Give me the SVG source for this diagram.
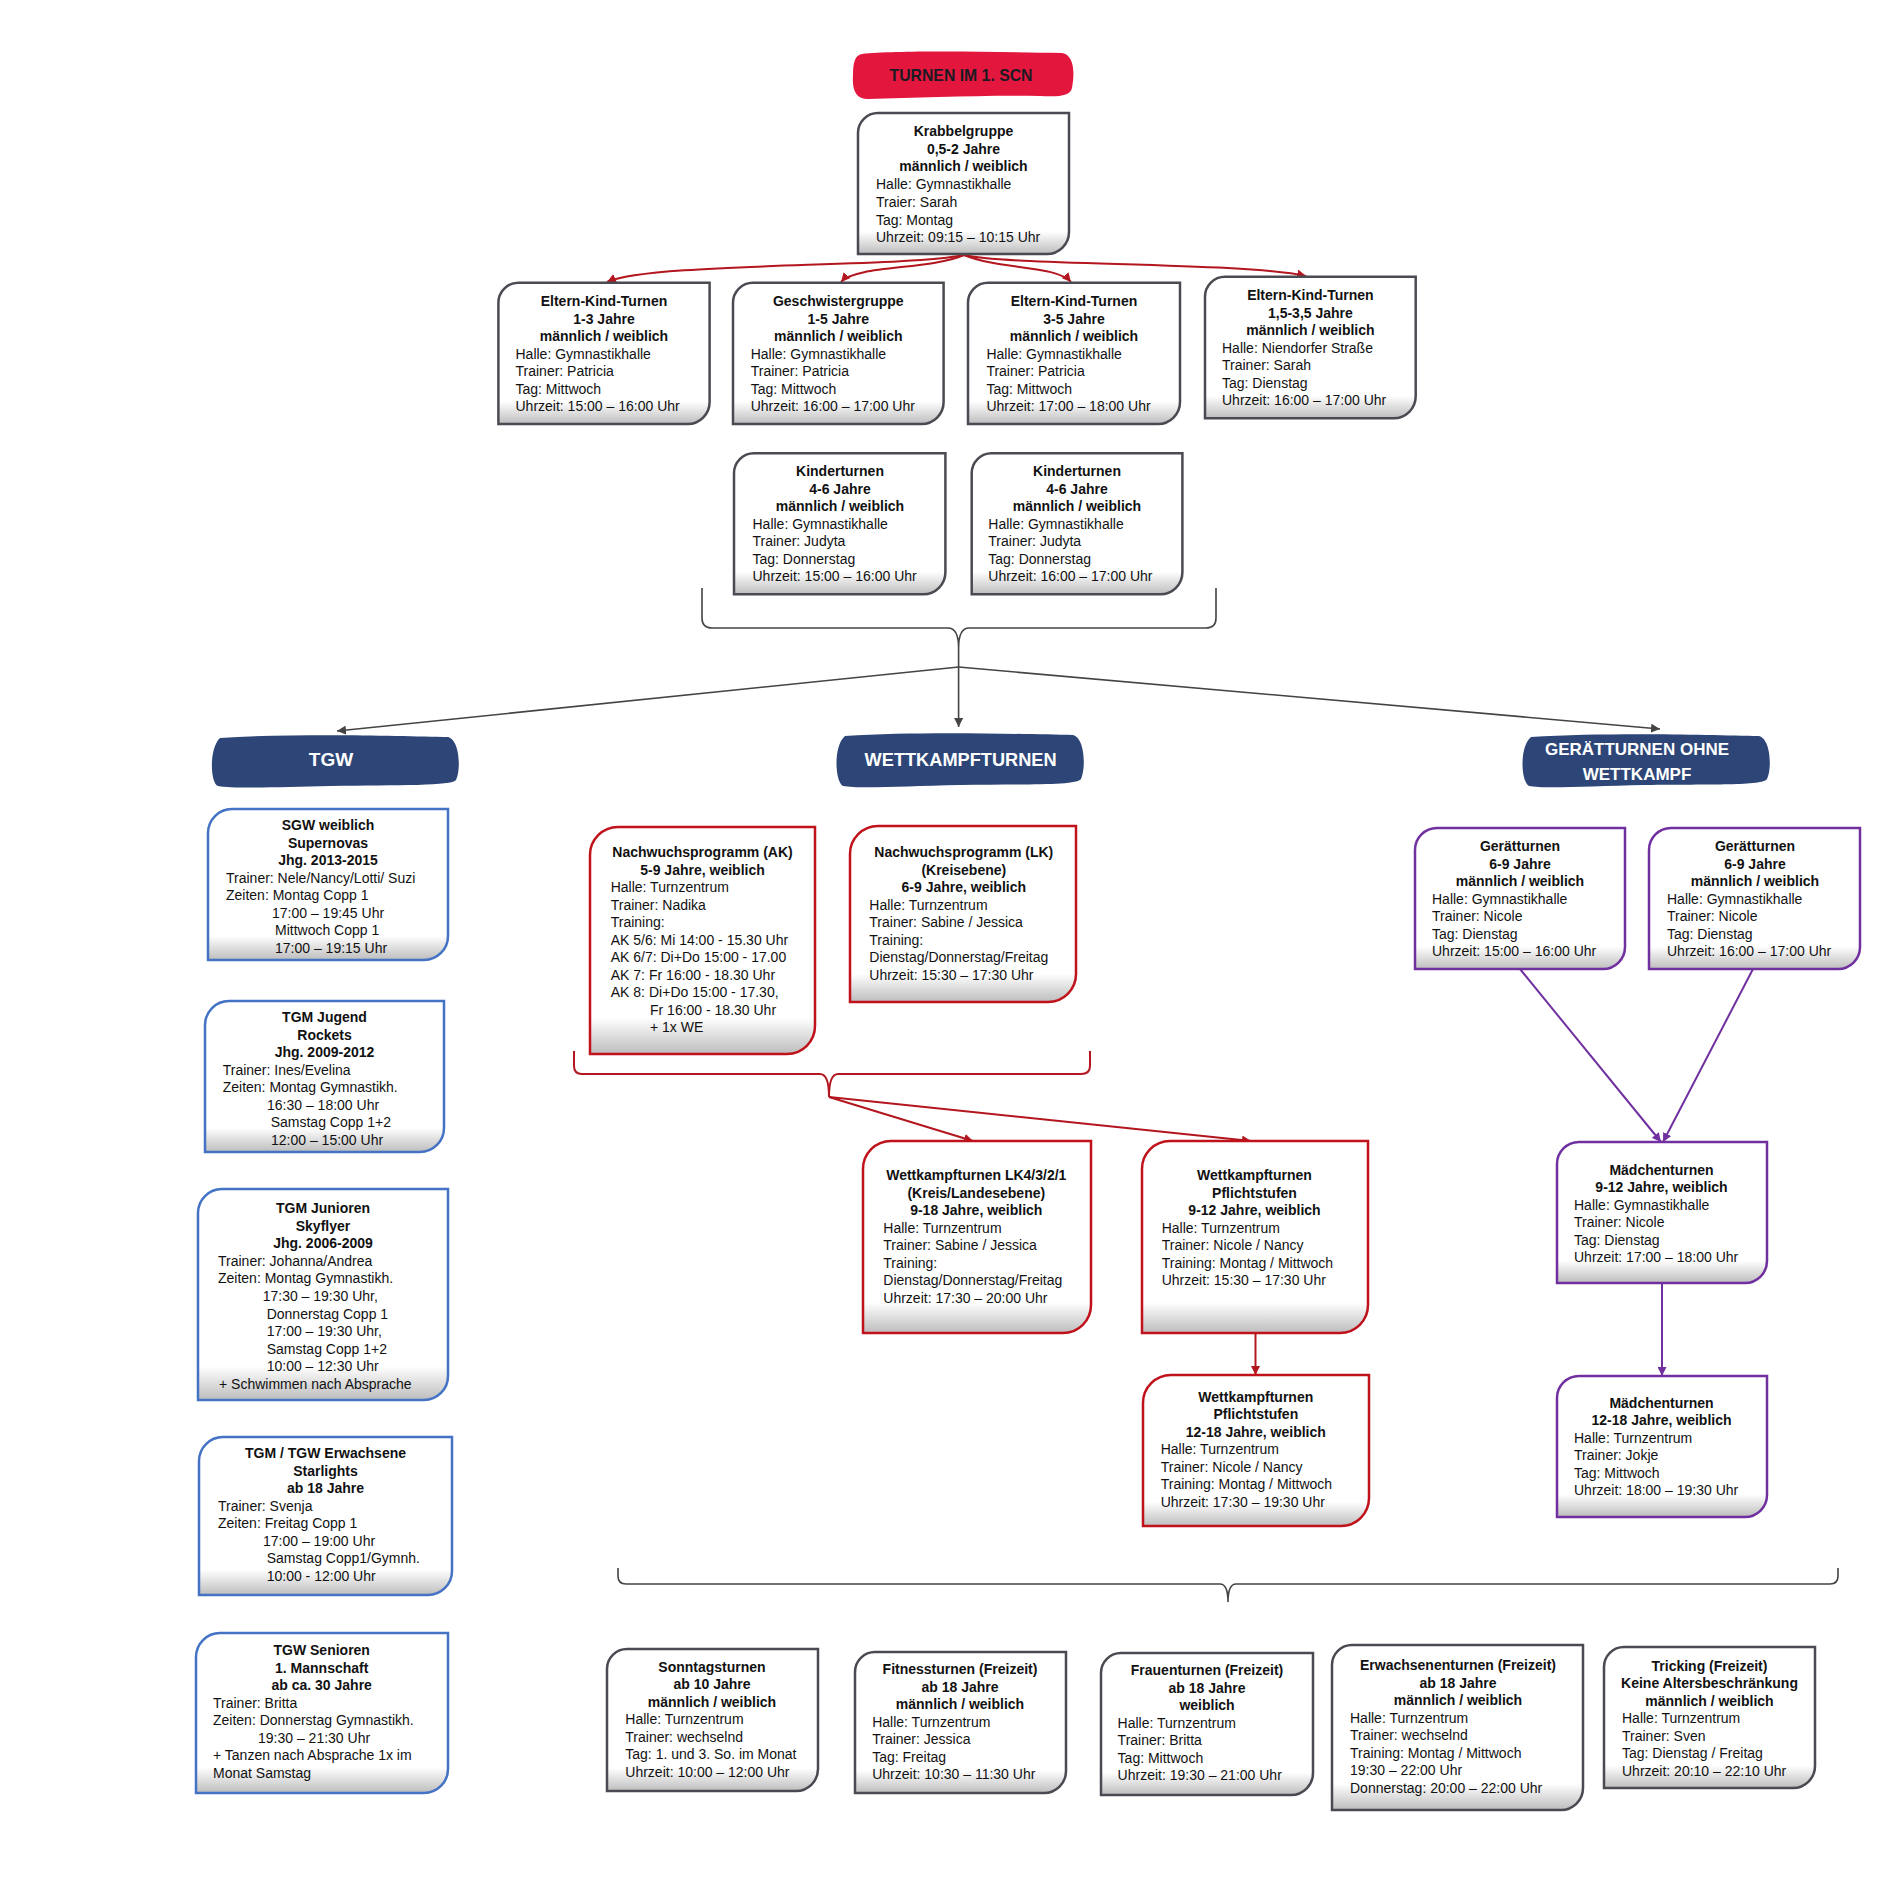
<svg xmlns="http://www.w3.org/2000/svg" width="1890" height="1890" viewBox="0 0 1890 1890">
<style>
text{font-family:"Liberation Sans",Arial,sans-serif;font-size:14px;fill:#111}
.b{font-weight:bold;text-anchor:middle}
.gy{fill:url(#shade);stroke:#4a4a52;stroke-width:2.5}
.rd{fill:url(#shade);stroke:#c0121b;stroke-width:2.5}
.bl{fill:url(#shade);stroke:#4472c4;stroke-width:2.5}
.pu{fill:url(#shade);stroke:#7030a0;stroke-width:2.5}
.pill{fill:#2d4677}
.pt{font-weight:bold;font-size:17px;fill:#fff;text-anchor:middle}
.cg{fill:none;stroke:#444;stroke-width:1.6}
.cr{fill:none;stroke:#b3161e;stroke-width:2}
.cp{fill:none;stroke:#7030a0;stroke-width:2}
</style>
<defs>
<linearGradient id="shade" x1="0" y1="0" x2="0" y2="1">
<stop offset="0" stop-color="#fff"/><stop offset="0.84" stop-color="#fff"/><stop offset="1" stop-color="#bdbdbd"/>
</linearGradient>
<marker id="ag" viewBox="0 0 10 10" refX="10" refY="5" markerWidth="9" markerHeight="9" markerUnits="userSpaceOnUse" orient="auto"><path d="M0,0 L10,5 L0,10 Z" fill="#444"/></marker>
<marker id="ar" viewBox="0 0 10 10" refX="10" refY="5" markerWidth="9" markerHeight="9" markerUnits="userSpaceOnUse" orient="auto"><path d="M0,0 L10,5 L0,10 Z" fill="#b3161e"/></marker>
<marker id="ap" viewBox="0 0 10 10" refX="10" refY="5" markerWidth="9" markerHeight="9" markerUnits="userSpaceOnUse" orient="auto"><path d="M0,0 L10,5 L0,10 Z" fill="#7030a0"/></marker>
</defs>
<rect width="1890" height="1890" fill="#fff"/>

<g id="connectors">
<path class="cr" marker-end="url(#ar)" d="M964,255 C900,268 650,262 607,282"/>
<path class="cr" marker-end="url(#ar)" d="M964,255 C930,270 856,265 841,282"/>
<path class="cr" marker-end="url(#ar)" d="M964,255 C1000,270 1056,265 1071,282"/>
<path class="cr" marker-end="url(#ar)" d="M964,255 C1010,266 1245,262 1306,276"/>
<path class="cg" d="M702,588 L702,618 Q702,628 712,628 L948,628 Q958.6,628 958.6,648 Q958.6,628 969,628 L1206,628 Q1216,628 1216,618 L1216,588"/>
<path class="cg" marker-end="url(#ag)" d="M958.6,667 L337,731"/>
<path class="cg" marker-end="url(#ag)" d="M958.6,648 L958.6,727"/>
<path class="cg" marker-end="url(#ag)" d="M958.6,667 L1660,729"/>
<path class="cr" d="M574,1051 L574,1066 Q574,1074 582,1074 L820,1074 Q829,1074 829,1097 Q829,1074 838,1074 L1081,1074 Q1090,1074 1090,1066 L1090,1051"/>
<path class="cr" marker-end="url(#ar)" d="M829,1097 L973,1141"/>
<path class="cr" marker-end="url(#ar)" d="M829,1097 L1251,1141"/>
<path class="cr" marker-end="url(#ar)" d="M1255.5,1333 L1255.5,1375"/>
<path class="cp" marker-end="url(#ap)" d="M1520,969 L1661,1142"/>
<path class="cp" marker-end="url(#ap)" d="M1753,969 L1663,1142"/>
<path class="cp" marker-end="url(#ap)" d="M1662,1283 L1662,1376"/>
<path class="cg" d="M618,1568 L618,1576 Q618,1584 626,1584 L1220,1584 Q1228,1584 1228,1602 Q1228,1584 1236,1584 L1830,1584 Q1838,1584 1838,1576 L1838,1568"/>
</g>

<g id="title">
<path fill="#e3173e" d="M862,54 C900,50 1000,52 1062,53 C1074,55 1075,72 1072,88 C1070,96 1060,97 1040,96 C980,95 920,98 868,99 C856,99 852,90 853,76 C853,62 855,55 862,54 Z"/>
<text x="961" y="81" style="font-weight:bold;font-size:17px;fill:#1a1a22;text-anchor:middle" textLength="143" lengthAdjust="spacingAndGlyphs">TURNEN IM 1. SCN</text>
</g>

<g id="krabbel">
<path class="gy" d="M858,133 A20,20 0 0 1 878,113 L1069,113 L1069,232 A22,22 0 0 1 1047,254 L858,254 Z"/>
<text class="b" x="963.5" y="136">Krabbelgruppe</text>
<text class="b" x="963.5" y="153.7">0,5-2 Jahre</text>
<text class="b" x="963.5" y="171.4">männlich / weiblich</text>
<text x="876" y="189">Halle: Gymnastikhalle</text>
<text x="876" y="207">Traier: Sarah</text>
<text x="876" y="224.6">Tag: Montag</text>
<text x="876" y="242">Uhrzeit: 09:15 – 10:15 Uhr</text>
</g>

<g id="ekt13">
<path class="gy" d="M498.4,302.7 A20,20 0 0 1 518.4,282.7 L709.6,282.7 L709.6,402 A22,22 0 0 1 687.6,424 L498.4,424 Z"/>
<text class="b" x="604" y="306">Eltern-Kind-Turnen</text>
<text class="b" x="604" y="323.5">1-3 Jahre</text>
<text class="b" x="604" y="341">männlich / weiblich</text>
<text x="515.5" y="358.5">Halle: Gymnastikhalle</text>
<text x="515.5" y="376">Trainer: Patricia</text>
<text x="515.5" y="393.5">Tag: Mittwoch</text>
<text x="515.5" y="411">Uhrzeit: 15:00 – 16:00 Uhr</text>
</g>

<g id="geschwister">
<path class="gy" d="M733,302.7 A20,20 0 0 1 753,282.7 L943.6,282.7 L943.6,402 A22,22 0 0 1 921.6,424 L733,424 Z"/>
<text class="b" x="838.3" y="306">Geschwistergruppe</text>
<text class="b" x="838.3" y="323.5">1-5 Jahre</text>
<text class="b" x="838.3" y="341">männlich / weiblich</text>
<text x="750.7" y="358.5">Halle: Gymnastikhalle</text>
<text x="750.7" y="376">Trainer: Patricia</text>
<text x="750.7" y="393.5">Tag: Mittwoch</text>
<text x="750.7" y="411">Uhrzeit: 16:00 – 17:00 Uhr</text>
</g>

<g id="ekt35">
<path class="gy" d="M968,302.7 A20,20 0 0 1 988,282.7 L1180,282.7 L1180,402 A22,22 0 0 1 1158,424 L968,424 Z"/>
<text class="b" x="1074" y="306">Eltern-Kind-Turnen</text>
<text class="b" x="1074" y="323.5">3-5 Jahre</text>
<text class="b" x="1074" y="341">männlich / weiblich</text>
<text x="986.4" y="358.5">Halle: Gymnastikhalle</text>
<text x="986.4" y="376">Trainer: Patricia</text>
<text x="986.4" y="393.5">Tag: Mittwoch</text>
<text x="986.4" y="411">Uhrzeit: 17:00 – 18:00 Uhr</text>
</g>

<g id="ekt1535">
<path class="gy" d="M1205,296.7 A20,20 0 0 1 1225,276.7 L1415.7,276.7 L1415.7,396.3 A22,22 0 0 1 1393.7,418.3 L1205,418.3 Z"/>
<text class="b" x="1310.4" y="300">Eltern-Kind-Turnen</text>
<text class="b" x="1310.4" y="317.5">1,5-3,5 Jahre</text>
<text class="b" x="1310.4" y="335">männlich / weiblich</text>
<text x="1222" y="352.5">Halle: Niendorfer Straße</text>
<text x="1222" y="370">Trainer: Sarah</text>
<text x="1222" y="387.5">Tag: Dienstag</text>
<text x="1222" y="405">Uhrzeit: 16:00 – 17:00 Uhr</text>
</g>

<g id="kinder1">
<path class="gy" d="M734,473.3 A20,20 0 0 1 754,453.3 L945.4,453.3 L945.4,572.3 A22,22 0 0 1 923.4,594.3 L734,594.3 Z"/>
<text class="b" x="840" y="476">Kinderturnen</text>
<text class="b" x="840" y="493.5">4-6 Jahre</text>
<text class="b" x="840" y="511">männlich / weiblich</text>
<text x="752.5" y="528.5">Halle: Gymnastikhalle</text>
<text x="752.5" y="546">Trainer: Judyta</text>
<text x="752.5" y="563.5">Tag: Donnerstag</text>
<text x="752.5" y="581">Uhrzeit: 15:00 – 16:00 Uhr</text>
</g>

<g id="kinder2">
<path class="gy" d="M971.7,473.3 A20,20 0 0 1 991.7,453.3 L1182.4,453.3 L1182.4,572.3 A22,22 0 0 1 1160.4,594.3 L971.7,594.3 Z"/>
<text class="b" x="1077" y="476">Kinderturnen</text>
<text class="b" x="1077" y="493.5">4-6 Jahre</text>
<text class="b" x="1077" y="511">männlich / weiblich</text>
<text x="988.3" y="528.5">Halle: Gymnastikhalle</text>
<text x="988.3" y="546">Trainer: Judyta</text>
<text x="988.3" y="563.5">Tag: Donnerstag</text>
<text x="988.3" y="581">Uhrzeit: 16:00 – 17:00 Uhr</text>
</g>

<g id="pill-tgw">
<path class="pill" d="M220,738 C300,733 400,736 448,737 C460,740 461,770 456,780 C452,786 400,785 330,786 C280,787 235,789 218,786 C210,783 209,748 220,738 Z"/>
<text class="pt" x="331" y="766" style="font-size:19px">TGW</text>
</g>
<g id="pill-wett">
<path class="pill" d="M845,736 C920,731 1020,734 1073,735 C1085,738 1086,768 1081,779 C1077,786 1020,784 960,785 C905,786 860,789 843,786 C835,782 833,746 845,736 Z"/>
<text class="pt" x="960.6" y="766" style="font-size:18px" textLength="192" lengthAdjust="spacingAndGlyphs">WETTKAMPFTURNEN</text>
</g>
<g id="pill-geraet">
<path class="pill" d="M1531,737 C1610,732 1710,735 1759,736 C1771,739 1772,769 1767,779 C1763,786 1710,784 1645,785 C1590,786 1545,789 1529,786 C1521,782 1519,747 1531,737 Z"/>
<text class="pt" x="1637" y="755">GERÄTTURNEN OHNE</text>
<text class="pt" x="1637" y="780">WETTKAMPF</text>
</g>

<g id="tgw-sgw">
<path class="bl" d="M208,833 A24,24 0 0 1 232,809 L448,809 L448,936 A24,24 0 0 1 424,960 L208,960 Z"/>
<text class="b" x="328" y="830">SGW weiblich</text>
<text class="b" x="328" y="847.5">Supernovas</text>
<text class="b" x="328" y="865">Jhg. 2013-2015</text>
<text x="226" y="882.5">Trainer: Nele/Nancy/Lotti/ Suzi</text>
<text x="226" y="900">Zeiten: Montag Copp 1</text>
<text x="272" y="917.5">17:00 – 19:45 Uhr</text>
<text x="275" y="935">Mittwoch Copp 1</text>
<text x="275" y="952.5">17:00 – 19:15 Uhr</text>
</g>

<g id="tgm-jugend">
<path class="bl" d="M205,1025 A24,24 0 0 1 229,1001 L444,1001 L444,1128 A24,24 0 0 1 420,1152 L205,1152 Z"/>
<text class="b" x="324.5" y="1022">TGM Jugend</text>
<text class="b" x="324.5" y="1039.5">Rockets</text>
<text class="b" x="324.5" y="1057">Jhg. 2009-2012</text>
<text x="222.7" y="1074.5">Trainer: Ines/Evelina</text>
<text x="222.7" y="1092">Zeiten: Montag Gymnastikh.</text>
<text x="267" y="1109.5">16:30 – 18:00 Uhr</text>
<text x="270.7" y="1127">Samstag Copp 1+2</text>
<text x="271" y="1144.5">12:00 – 15:00 Uhr</text>
</g>

<g id="tgm-junioren">
<path class="bl" d="M198,1213 A24,24 0 0 1 222,1189 L448,1189 L448,1376 A24,24 0 0 1 424,1400 L198,1400 Z"/>
<text class="b" x="323" y="1213">TGM Junioren</text>
<text class="b" x="323" y="1230.6">Skyflyer</text>
<text class="b" x="323" y="1248.2">Jhg. 2006-2009</text>
<text x="218" y="1265.8">Trainer: Johanna/Andrea</text>
<text x="218" y="1283.4">Zeiten: Montag Gymnastikh.</text>
<text x="262.7" y="1301">17:30 – 19:30 Uhr,</text>
<text x="266.7" y="1318.6">Donnerstag Copp 1</text>
<text x="266.7" y="1336.2">17:00 – 19:30 Uhr,</text>
<text x="266.7" y="1353.8">Samstag Copp 1+2</text>
<text x="266.7" y="1371.4">10:00 – 12:30 Uhr</text>
<text x="219" y="1389">+ Schwimmen nach Absprache</text>
</g>

<g id="tgw-erwachsene">
<path class="bl" d="M199,1461 A24,24 0 0 1 223,1437 L452,1437 L452,1571 A24,24 0 0 1 428,1595 L199,1595 Z"/>
<text class="b" x="325.5" y="1458">TGM / TGW Erwachsene</text>
<text class="b" x="325.5" y="1475.5">Starlights</text>
<text class="b" x="325.5" y="1493">ab 18 Jahre</text>
<text x="218" y="1510.5">Trainer: Svenja</text>
<text x="218" y="1528">Zeiten: Freitag Copp 1</text>
<text x="263" y="1545.5">17:00 – 19:00 Uhr</text>
<text x="266.7" y="1563">Samstag Copp1/Gymnh.</text>
<text x="266.7" y="1580.5">10:00 - 12:00 Uhr</text>
</g>

<g id="tgw-senioren">
<path class="bl" d="M196,1657 A24,24 0 0 1 220,1633 L448,1633 L448,1769 A24,24 0 0 1 424,1793 L196,1793 Z"/>
<text class="b" x="321.7" y="1655">TGW Senioren</text>
<text class="b" x="321.7" y="1672.5">1. Mannschaft</text>
<text class="b" x="321.7" y="1690">ab ca. 30 Jahre</text>
<text x="213" y="1707.5">Trainer: Britta</text>
<text x="213" y="1725">Zeiten: Donnerstag Gymnastikh.</text>
<text x="258" y="1742.5">19:30 – 21:30 Uhr</text>
<text x="213" y="1760">+ Tanzen nach Absprache 1x im</text>
<text x="213" y="1777.5">Monat Samstag</text>
</g>

<g id="nachwuchs-ak">
<path class="rd" d="M590,855 A28,28 0 0 1 618,827 L815,827 L815,1026 A28,28 0 0 1 787,1054 L590,1054 Z"/>
<text class="b" x="702.5" y="857.3">Nachwuchsprogramm (AK)</text>
<text class="b" x="702.5" y="874.8">5-9 Jahre, weiblich</text>
<text x="610.7" y="892.3">Halle: Turnzentrum</text>
<text x="610.7" y="909.8">Trainer: Nadika</text>
<text x="610.7" y="927.3">Training:</text>
<text x="610.7" y="944.8">AK 5/6: Mi 14:00 - 15.30 Uhr</text>
<text x="610.7" y="962.3">AK 6/7: Di+Do 15:00 - 17.00</text>
<text x="610.7" y="979.8">AK 7:<tspan x="649">Fr 16:00 - 18.30 Uhr</tspan></text>
<text x="610.7" y="997.3">AK 8:<tspan x="649">Di+Do 15:00 - 17.30,</tspan></text>
<text x="650" y="1014.8">Fr 16:00 - 18.30 Uhr</text>
<text x="650" y="1032.3">+ 1x WE</text>
</g>

<g id="nachwuchs-lk">
<path class="rd" d="M850,854 A28,28 0 0 1 878,826 L1076,826 L1076,974 A28,28 0 0 1 1048,1002 L850,1002 Z"/>
<text class="b" x="963.8" y="857.3">Nachwuchsprogramm (LK)</text>
<text class="b" x="963.8" y="874.8">(Kreisebene)</text>
<text class="b" x="963.8" y="892.3">6-9 Jahre, weiblich</text>
<text x="869.3" y="909.8">Halle: Turnzentrum</text>
<text x="869.3" y="927.3">Trainer: Sabine / Jessica</text>
<text x="869.3" y="944.8">Training:</text>
<text x="869.3" y="962.3">Dienstag/Donnerstag/Freitag</text>
<text x="869.3" y="979.8">Uhrzeit: 15:30 – 17:30 Uhr</text>
</g>

<g id="wk-lk">
<path class="rd" d="M863,1169 A28,28 0 0 1 891,1141 L1091,1141 L1091,1305 A28,28 0 0 1 1063,1333 L863,1333 Z"/>
<text class="b" x="976.3" y="1180">Wettkampfturnen LK4/3/2/1</text>
<text class="b" x="976.3" y="1197.5">(Kreis/Landesebene)</text>
<text class="b" x="976.3" y="1215">9-18 Jahre, weiblich</text>
<text x="883.3" y="1232.5">Halle: Turnzentrum</text>
<text x="883.3" y="1250">Trainer: Sabine / Jessica</text>
<text x="883.3" y="1267.5">Training:</text>
<text x="883.3" y="1285">Dienstag/Donnerstag/Freitag</text>
<text x="883.3" y="1302.5">Uhrzeit: 17:30 – 20:00 Uhr</text>
</g>

<g id="wk-pflicht912">
<path class="rd" d="M1142,1169 A28,28 0 0 1 1170,1141 L1368,1141 L1368,1305 A28,28 0 0 1 1340,1333 L1142,1333 Z"/>
<text class="b" x="1254.5" y="1180">Wettkampfturnen</text>
<text class="b" x="1254.5" y="1197.5">Pflichtstufen</text>
<text class="b" x="1254.5" y="1215">9-12 Jahre, weiblich</text>
<text x="1161.7" y="1232.5">Halle: Turnzentrum</text>
<text x="1161.7" y="1250">Trainer: Nicole / Nancy</text>
<text x="1161.7" y="1267.5">Training: Montag / Mittwoch</text>
<text x="1161.7" y="1285">Uhrzeit: 15:30 – 17:30 Uhr</text>
</g>

<g id="wk-pflicht1218">
<path class="rd" d="M1143,1403 A28,28 0 0 1 1171,1375 L1369,1375 L1369,1498 A28,28 0 0 1 1341,1526 L1143,1526 Z"/>
<text class="b" x="1255.8" y="1401.7">Wettkampfturnen</text>
<text class="b" x="1255.8" y="1419.2">Pflichtstufen</text>
<text class="b" x="1255.8" y="1436.7">12-18 Jahre, weiblich</text>
<text x="1160.7" y="1454.2">Halle: Turnzentrum</text>
<text x="1160.7" y="1471.7">Trainer: Nicole / Nancy</text>
<text x="1160.7" y="1489.2">Training: Montag / Mittwoch</text>
<text x="1160.7" y="1506.7">Uhrzeit: 17:30 – 19:30 Uhr</text>
</g>

<g id="geraet1">
<path class="pu" d="M1415,850 A22,22 0 0 1 1437,828 L1625,828 L1625,947 A22,22 0 0 1 1603,969 L1415,969 Z"/>
<text class="b" x="1520" y="851">Gerätturnen</text>
<text class="b" x="1520" y="868.5">6-9 Jahre</text>
<text class="b" x="1520" y="886">männlich / weiblich</text>
<text x="1432" y="903.5">Halle: Gymnastikhalle</text>
<text x="1432" y="921">Trainer: Nicole</text>
<text x="1432" y="938.5">Tag: Dienstag</text>
<text x="1432" y="956">Uhrzeit: 15:00 – 16:00 Uhr</text>
</g>

<g id="geraet2">
<path class="pu" d="M1649,850 A22,22 0 0 1 1671,828 L1860,828 L1860,947 A22,22 0 0 1 1838,969 L1649,969 Z"/>
<text class="b" x="1755" y="851">Gerätturnen</text>
<text class="b" x="1755" y="868.5">6-9 Jahre</text>
<text class="b" x="1755" y="886">männlich / weiblich</text>
<text x="1667" y="903.5">Halle: Gymnastikhalle</text>
<text x="1667" y="921">Trainer: Nicole</text>
<text x="1667" y="938.5">Tag: Dienstag</text>
<text x="1667" y="956">Uhrzeit: 16:00 – 17:00 Uhr</text>
</g>

<g id="maedchen912">
<path class="pu" d="M1557,1164 A22,22 0 0 1 1579,1142 L1767,1142 L1767,1261 A22,22 0 0 1 1745,1283 L1557,1283 Z"/>
<text class="b" x="1661.5" y="1174.6">Mädchenturnen</text>
<text class="b" x="1661.5" y="1192">9-12 Jahre, weiblich</text>
<text x="1574" y="1209.6">Halle: Gymnastikhalle</text>
<text x="1574" y="1227">Trainer: Nicole</text>
<text x="1574" y="1244.6">Tag: Dienstag</text>
<text x="1574" y="1262">Uhrzeit: 17:00 – 18:00 Uhr</text>
</g>

<g id="maedchen1218">
<path class="pu" d="M1557,1398 A22,22 0 0 1 1579,1376 L1767,1376 L1767,1495 A22,22 0 0 1 1745,1517 L1557,1517 Z"/>
<text class="b" x="1661.5" y="1407.5">Mädchenturnen</text>
<text class="b" x="1661.5" y="1425">12-18 Jahre, weiblich</text>
<text x="1574" y="1442.5">Halle: Turnzentrum</text>
<text x="1574" y="1460">Trainer: Jokje</text>
<text x="1574" y="1477.5">Tag: Mittwoch</text>
<text x="1574" y="1495">Uhrzeit: 18:00 – 19:30 Uhr</text>
</g>

<g id="sonntag">
<path class="gy" d="M607,1669 A20,20 0 0 1 627,1649 L818,1649 L818,1769 A22,22 0 0 1 796,1791 L607,1791 Z"/>
<text class="b" x="712" y="1671.7">Sonntagsturnen</text>
<text class="b" x="712" y="1689.2">ab 10 Jahre</text>
<text class="b" x="712" y="1706.7">männlich / weiblich</text>
<text x="625.3" y="1724.2">Halle: Turnzentrum</text>
<text x="625.3" y="1741.7">Trainer: wechselnd</text>
<text x="625.3" y="1759.2">Tag: 1. und 3. So. im Monat</text>
<text x="625.3" y="1776.7">Uhrzeit: 10:00 – 12:00 Uhr</text>
</g>

<g id="fitness">
<path class="gy" d="M855,1672 A20,20 0 0 1 875,1652 L1066,1652 L1066,1771 A22,22 0 0 1 1044,1793 L855,1793 Z"/>
<text class="b" x="960" y="1674.3">Fitnessturnen (Freizeit)</text>
<text class="b" x="960" y="1691.8">ab 18 Jahre</text>
<text class="b" x="960" y="1709.3">männlich / weiblich</text>
<text x="872.2" y="1726.8">Halle: Turnzentrum</text>
<text x="872.2" y="1744.3">Trainer: Jessica</text>
<text x="872.2" y="1761.8">Tag: Freitag</text>
<text x="872.2" y="1779.3">Uhrzeit: 10:30 – 11:30 Uhr</text>
</g>

<g id="frauen">
<path class="gy" d="M1101,1673 A20,20 0 0 1 1121,1653 L1313,1653 L1313,1773 A22,22 0 0 1 1291,1795 L1101,1795 Z"/>
<text class="b" x="1207" y="1675">Frauenturnen (Freizeit)</text>
<text class="b" x="1207" y="1692.5">ab 18 Jahre</text>
<text class="b" x="1207" y="1710">weiblich</text>
<text x="1117.6" y="1727.5">Halle: Turnzentrum</text>
<text x="1117.6" y="1745">Trainer: Britta</text>
<text x="1117.6" y="1762.5">Tag: Mittwoch</text>
<text x="1117.6" y="1780">Uhrzeit: 19:30 – 21:00 Uhr</text>
</g>

<g id="erwachsenen">
<path class="gy" d="M1332,1665 A20,20 0 0 1 1352,1645 L1583,1645 L1583,1788 A22,22 0 0 1 1561,1810 L1332,1810 Z"/>
<text class="b" x="1458" y="1670">Erwachsenenturnen (Freizeit)</text>
<text class="b" x="1458" y="1687.5">ab 18 Jahre</text>
<text class="b" x="1458" y="1705">männlich / weiblich</text>
<text x="1350" y="1722.5">Halle: Turnzentrum</text>
<text x="1350" y="1740">Trainer: wechselnd</text>
<text x="1350" y="1757.5">Training:  Montag / Mittwoch</text>
<text x="1350" y="1775">19:30 – 22:00 Uhr</text>
<text x="1350" y="1792.5">Donnerstag: 20:00 – 22:00 Uhr</text>
</g>

<g id="tricking">
<path class="gy" d="M1604,1667 A20,20 0 0 1 1624,1647 L1815,1647 L1815,1766 A22,22 0 0 1 1793,1788 L1604,1788 Z"/>
<text class="b" x="1709.5" y="1670.7">Tricking (Freizeit)</text>
<text class="b" x="1709.5" y="1688.2">Keine Altersbeschränkung</text>
<text class="b" x="1709.5" y="1705.7">männlich / weiblich</text>
<text x="1622" y="1723.2">Halle: Turnzentrum</text>
<text x="1622" y="1740.7">Trainer: Sven</text>
<text x="1622" y="1758.2">Tag: Dienstag / Freitag</text>
<text x="1622" y="1775.7">Uhrzeit: 20:10 – 22:10 Uhr</text>
</g>
</svg>
